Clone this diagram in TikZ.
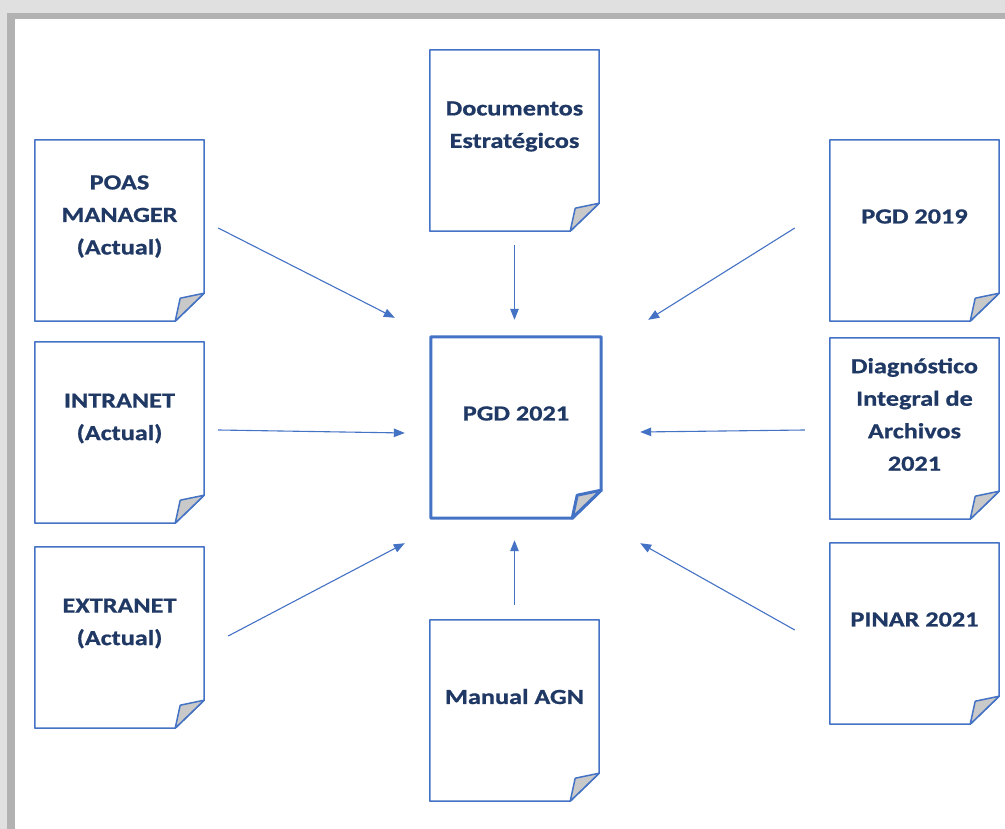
\documentclass[tikz,border=0pt]{standalone}
\usepackage{fontspec}
\setmainfont{Carlito}[FakeStretch=1.22,BoldFeatures={FakeBold=0.8}]
\usetikzlibrary{arrows.meta,positioning,calc}
\definecolor{azul}{HTML}{4472C4}
\definecolor{marino}{HTML}{1F3864}
\definecolor{doblez}{HTML}{C9C9C9}

% contorno de hoja con esquina doblada
\newcommand{\hoja}[2][line width=1.5pt]{%
  \draw[azul,line join=round,#1] (#2.north west) -- (#2.north east) -- (#2.south east)
     -- ([xshift=-29pt,yshift=-28pt]#2.south east) -- ([yshift=-28pt]#2.south west) -- cycle;
  \filldraw[fill=doblez,draw=azul,line join=round,#1] ([xshift=-29pt,yshift=-28pt]#2.south east)
     -- ([xshift=-24pt,yshift=-5pt]#2.south east) -- (#2.south east) -- cycle;
}

\begin{document}
\begin{tikzpicture}[x=1pt,y=-1pt,
    hoja/.style={minimum width=169pt,minimum height=153pt,inner sep=0pt,align=center,
      text=marino,font=\fontsize{21.5}{32.5}\selectfont\bfseries},
    flecha/.style={azul,line width=1.1pt,-{Triangle[length=11pt,width=8.5pt]}}]
  \useasboundingbox (0,0) rectangle (1005,829);
  % marco con sombra
  \fill[gray!24] (0,0) rectangle (1005,829);
  \fill[gray!60] (7,13) rectangle (1005,829);
  \fill[white] (15,19) rectangle (1005,829);

  \node[hoja] (poas) at (119.5,216.5) {POAS\\MANAGER\\(Actual)};
  \node[hoja] (intranet) at (119.5,418.5) {INTRANET\\(Actual)};
  \node[hoja] (extranet) at (119.5,623.5) {EXTRANET\\(Actual)};
  \node[hoja] (docs) at (514.5,126.5) {Documentos\\Estratégicos};
  \node[hoja,minimum width=170pt] (pgd) at (516,413.5) {PGD 2021};
  \node[hoja] (manual) at (514.5,696.5) {Manual AGN};
  \node[hoja] (pgd19) at (914.5,216.5) {PGD 2019};
  \node[hoja] (diag) at (914.5,414.5) {Diagnóstico\\Integral de\\Archivos\\2021};
  \node[hoja] (pinar) at (914.5,619.5) {PINAR 2021};

  \foreach \n in {poas,intranet,extranet,docs,manual,pgd19,diag,pinar} {\hoja{\n}}
  \hoja[line width=3pt]{pgd}

  \draw[flecha] ([xshift=14pt,yshift=-11.5pt]poas.east) -- ([xshift=-36pt,yshift=19pt]pgd.north west);
  \draw[flecha] ([yshift=-42pt]docs.south) -- ([yshift=17pt]docs.south |- pgd.north);
  \draw[flecha] ([xshift=-35pt,yshift=-11.5pt]pgd19.west) -- ([xshift=47pt,yshift=17pt]pgd.north east);
  \draw[flecha] ([xshift=14pt,yshift=-11.5pt]intranet.east) -- ([xshift=-26pt,yshift=-19.5pt]pgd.west);
  \draw[flecha] ([xshift=-25pt,yshift=-15.5pt]diag.west) -- ([xshift=39pt,yshift=-18.5pt]pgd.east);
  \draw[flecha] ([xshift=24pt,yshift=-12.5pt]extranet.east) -- ([xshift=-26pt,yshift=-53pt]pgd.south west);
  \draw[flecha] ([yshift=15pt]manual.north) -- ([yshift=-50pt]manual.north |- pgd.south);
  \draw[flecha] ([xshift=-35pt,yshift=-10.5pt]pinar.west) -- ([xshift=39pt,yshift=-53pt]pgd.south east);
\end{tikzpicture}
\end{document}
